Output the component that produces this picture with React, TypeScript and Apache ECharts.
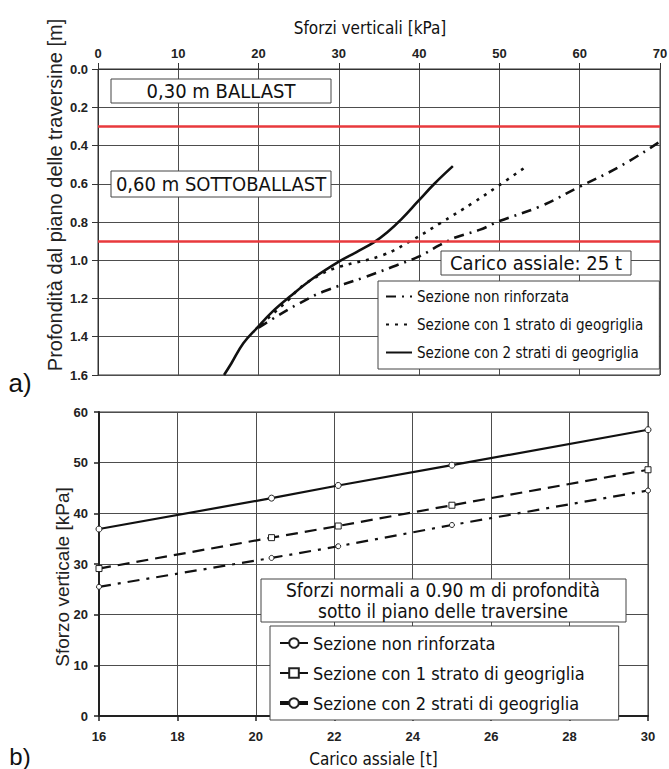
import React, { useEffect, useRef } from "react";
import * as echarts from "echarts";

// ---------- DATA: chart a) stress [kPa] vs depth [m] ----------
const topNames = [
  "Sezione non rinforzata",
  "Sezione con 1 strato di geogriglia",
  "Sezione con 2 strati di geogriglia",
];
const curveNonRinforzata: [number, number][] = [
  [69.8, 0.385], [65, 0.51], [60, 0.615], [55, 0.72], [50, 0.795], [47.6, 0.84],
  [44.6, 0.88], [42.6, 0.92], [40, 0.98], [36.7, 1.034], [33.4, 1.086], [28, 1.165],
  [25.1, 1.225], [22.2, 1.295], [19.9, 1.356],
];
const curveUnoStrato: [number, number][] = [
  [53, 0.52], [50, 0.607], [46.7, 0.7], [42.6, 0.807], [39.2, 0.893], [35.5, 0.973],
  [30, 1.035], [27.5, 1.08], [25, 1.15], [23.9, 1.2], [21.4, 1.295], [19.9, 1.356],
];
const curveDueStrati: [number, number][] = [
  [44.2, 0.508], [41.9, 0.6], [39.9, 0.69], [37.8, 0.785], [36, 0.855], [34.4, 0.905],
  [32.2, 0.957], [30, 1.007], [26.8, 1.094], [23.9, 1.19], [21.7, 1.27], [19.9, 1.35],
  [18.1, 1.434], [16.6, 1.54], [15.7, 1.6],
];
const layerDepths = [0.3, 0.9];
const layerLabels = ["0,30 m BALLAST", "0,60 m SOTTOBALLAST"];
const loadLabel = "Carico assiale: 25 t";

// ---------- DATA: chart b) axial load [t] vs vertical stress [kPa] ----------
const loads = [16, 20.4, 22.1, 25, 30];
const sigmaNonRinforzata = [25.5, 31.2, 33.5, 37.7, 44.5];
const sigmaUnoStrato = [29.1, 35.2, 37.5, 41.6, 48.6];
const sigmaDueStrati = [36.9, 43.0, 45.5, 49.5, 56.5];
const bottomNote = ["Sforzi normali a 0.90 m di profondità", "sotto il piano delle traversine"];

const TAHOMA = '"DejaVu Sans Condensed", "DejaVu Sans", sans-serif';
const ARIAL = '"Liberation Sans", Arial, sans-serif';
const NARROW = '"Liberation Sans Narrow", "Liberation Sans", Arial, sans-serif';
const GRID = "#4d4d4d";

function topOption(): any {
  const styles: any[] = [
    { type: [10, 6, 2, 6], width: 2.6 },
    { type: [3, 6], width: 2.6 },
    { type: "solid", width: 2.6 },
  ];
  const curves = [curveNonRinforzata, curveUnoStrato, curveDueStrati];
  const series: any[] = curves.map((c, i) => ({
    type: "line",
    name: topNames[i],
    data: c,
    symbol: "none",
    showSymbol: false,
    smooth: 0.4,
    itemStyle: { color: "#111" },
    lineStyle: { color: "#111", ...styles[i] },
    z: 3,
  }));
  series[2].markLine = {
    silent: true,
    symbol: "none",
    label: { show: false },
    lineStyle: { color: "#e8393c", width: 2.5, type: "solid" },
    data: layerDepths.map((d) => ({ yAxis: d })),
  };
  return {
    animation: false,
    backgroundColor: "#fff",
    grid: {
      left: 98, right: 9, top: 69, height: 306,
      outerBoundsMode: "none", containLabel: false,
      show: true, borderColor: "#333", borderWidth: 1,
    },
    xAxis: {
      type: "value",
      position: "top",
      min: 0,
      max: 70,
      interval: 10,
      axisLine: { show: true, lineStyle: { color: "#333", width: 1 } },
      axisTick: { show: true, length: 6, lineStyle: { color: "#333" } },
      axisLabel: { margin: 9, fontFamily: NARROW, fontWeight: "bold", fontSize: 13, color: "#222" },
      splitLine: { show: true, lineStyle: { color: GRID, width: 1 } },
    },
    yAxis: {
      type: "value",
      inverse: true,
      min: 0,
      max: 1.6,
      interval: 0.2,
      axisLine: { show: true, lineStyle: { color: "#333", width: 1 } },
      axisTick: { show: true, length: 6, lineStyle: { color: "#333" } },
      axisLabel: {
        margin: 10,
        fontFamily: NARROW,
        fontWeight: "bold",
        fontSize: 13,
        color: "#222",
        formatter: (v: number) => v.toFixed(1),
      },
      splitLine: { show: true, lineStyle: { color: GRID, width: 1 } },
    },
    legend: {
      orient: "vertical",
      left: 378,
      top: 281,
      data: topNames,
      backgroundColor: "#fff",
      borderColor: "#444",
      borderWidth: 1,
      padding: [8, 16, 9, 7],
      itemWidth: 26,
      itemHeight: 15,
      itemGap: 13,
      itemStyle: { color: "rgba(0,0,0,0)", borderWidth: 0, opacity: 0 },
      textStyle: { fontFamily: TAHOMA, fontSize: 15, color: "#111" },
    },
    graphic: [
      {
        type: "text",
        x: 370,
        y: 28,
        style: { text: "Sforzi verticali [kPa]", font: `17px ${TAHOMA}`, fill: "#111", align: "center", verticalAlign: "middle" },
      },
      {
        type: "text",
        x: 55,
        y: 195,
        rotation: Math.PI / 2,
        style: { text: "Profondità dal piano delle traversine [m]", font: `20px ${ARIAL}`, fill: "#222", align: "center", verticalAlign: "middle" },
      },
      { type: "rect", shape: { x: 111, y: 79, width: 220, height: 24 }, style: { fill: "#fff", stroke: "#444", lineWidth: 1 }, z: 10 },
      { type: "text", x: 221, y: 91, style: { text: layerLabels[0], font: `20px ${TAHOMA}`, fill: "#111", align: "center", verticalAlign: "middle" }, z: 11 },
      { type: "rect", shape: { x: 111, y: 171, width: 220, height: 26 }, style: { fill: "#fff", stroke: "#444", lineWidth: 1 }, z: 10 },
      { type: "text", x: 221, y: 184, style: { text: layerLabels[1], font: `20px ${TAHOMA}`, fill: "#111", align: "center", verticalAlign: "middle" }, z: 11 },
      { type: "rect", shape: { x: 441, y: 251, width: 190, height: 24 }, style: { fill: "#fff", stroke: "#444", lineWidth: 1 }, z: 10 },
      { type: "text", x: 536, y: 263, style: { text: loadLabel, font: `20px ${TAHOMA}`, fill: "#111", align: "center", verticalAlign: "middle" }, z: 11 },
      { type: "text", x: 20, y: 383, style: { text: "a)", font: `26px ${ARIAL}`, fill: "#111", align: "center", verticalAlign: "middle" } },
    ],
    series,
  };
}

function bottomOption(): any {
  const defs = [
    { name: topNames[0], values: sigmaNonRinforzata, type: [12, 7, 3, 7], symbol: "circle", size: 5 },
    { name: topNames[1], values: sigmaUnoStrato, type: [12, 7], symbol: "rect", size: 6 },
    { name: topNames[2], values: sigmaDueStrati, type: "solid", symbol: "circle", size: 6 },
  ];
  const series = defs.map((d) => ({
    type: "line",
    name: d.name,
    data: loads.map((x, i) => [x, d.values[i]]),
    symbol: d.symbol,
    symbolSize: d.size,
    showSymbol: true,
    itemStyle: { color: "#fff", borderColor: "#222", borderWidth: 1 },
    lineStyle: { color: "#111", width: 2.2, type: d.type },
    z: 3,
  }));
  return {
    animation: false,
    backgroundColor: "#fff",
    grid: {
      left: 99, right: 21, top: 12, height: 304,
      outerBoundsMode: "none", containLabel: false,
      show: true, borderColor: "#333", borderWidth: 1,
    },
    xAxis: {
      type: "value",
      min: 16,
      max: 30,
      interval: 2,
      name: "Carico assiale [t]",
      nameLocation: "middle",
      nameGap: 34,
      nameTextStyle: { fontFamily: TAHOMA, fontSize: 17, color: "#111" },
      axisLine: { show: true, lineStyle: { color: "#222", width: 2 } },
      axisTick: { show: true, length: 5, lineStyle: { color: "#222", width: 1.5 } },
      axisLabel: { margin: 14, fontFamily: NARROW, fontWeight: "bold", fontSize: 13, color: "#222" },
      splitLine: { show: true, lineStyle: { color: GRID, width: 1 } },
    },
    yAxis: {
      type: "value",
      min: 0,
      max: 60,
      interval: 10,
      axisLine: { show: true, lineStyle: { color: "#222", width: 2 } },
      axisTick: { show: true, length: 5, lineStyle: { color: "#222", width: 1.5 } },
      axisLabel: { margin: 11, fontFamily: NARROW, fontWeight: "bold", fontSize: 13, color: "#222" },
      splitLine: { show: true, lineStyle: { color: GRID, width: 1 } },
    },
    legend: {
      orient: "vertical",
      left: 270,
      top: 226,
      data: [
        { name: topNames[0], lineStyle: { type: "solid", width: 2 } },
        { name: topNames[1], lineStyle: { type: "solid", width: 2 } },
        { name: topNames[2], lineStyle: { type: "solid", width: 4 } },
      ],
      backgroundColor: "#fff",
      borderColor: "#444",
      borderWidth: 1,
      padding: [8, 34, 8, 8],
      itemWidth: 28,
      itemHeight: 12,
      itemGap: 12,
      textStyle: { fontFamily: TAHOMA, fontSize: 18, color: "#111" },
    },
    graphic: [
      {
        type: "text",
        x: 62,
        y: 177,
        rotation: Math.PI / 2,
        style: { text: "Sforzo verticale [kPa]", font: `19px ${ARIAL}`, fill: "#222", align: "center", verticalAlign: "middle" },
      },
      { type: "rect", shape: { x: 261, y: 179, width: 365, height: 43 }, style: { fill: "#fff", stroke: "#444", lineWidth: 1 }, z: 10 },
      {
        type: "text",
        x: 443,
        y: 200,
        style: { text: bottomNote.join("\n"), font: `19px ${TAHOMA}`, lineHeight: 21, fill: "#111", align: "center", verticalAlign: "middle" },
        z: 11,
      },
      { type: "text", x: 20, y: 356, style: { text: "b)", font: `24px ${ARIAL}`, fill: "#111", align: "center", verticalAlign: "middle" } },
    ],
    series,
  };
}

function Chart({ option, width, height }: { option: () => any; width: number; height: number }) {
  const ref = useRef<HTMLDivElement>(null);
  useEffect(() => {
    if (!ref.current) return;
    const chart = echarts.init(ref.current, undefined, { renderer: "svg" });
    chart.setOption(option());
    return () => chart.dispose();
  }, [option]);
  return <div ref={ref} style={{ width, height }} />;
}

export default function App() {
  return (
    <div style={{ position: "absolute", left: 0, top: 0, width: 669, height: 769, background: "#fff", overflow: "hidden" }}>
      <Chart option={topOption} width={669} height={400} />
      <Chart option={bottomOption} width={669} height={369} />
    </div>
  );
}
